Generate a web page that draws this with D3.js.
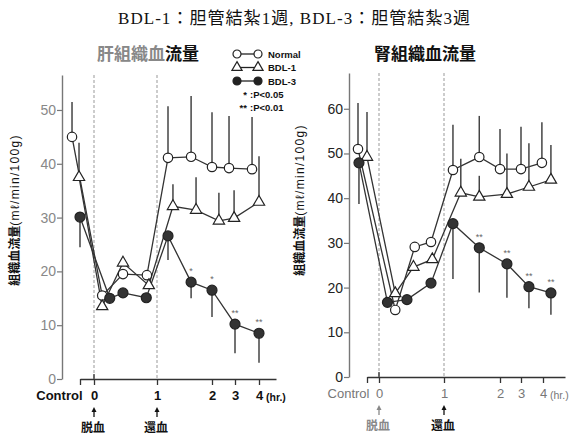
<!DOCTYPE html>
<html>
<head>
<meta charset="utf-8">
<script src="https://cdn.jsdelivr.net/npm/d3@7"></script>
<style>
  body { margin: 0; background: #fff; }
  svg { display: block; }
</style>
</head>
<body>
<div id="chart"></div>
<script>
// time points (hr), x offsets differ a little per series as in the original figure
var liverNormalT = [-1.57, 0.13, 0.46, 0.84, 1.2, 1.62, 2.0, 2.74, 3.71];
var liverNormal = [45.0, 15.5, 19.5, 19.3, 41.1, 41.3, 39.4, 39.2, 39.0];
var liverNormalSD = [6.5, 0, 0, 0, 9.6, 11.3, 10.2, 9.7, 9.7];

var liverBdl1T = [-1.07, 0.13, 0.46, 0.87, 1.29, 1.71, 2.3, 2.96, 4.0];
var liverBdl1 = [37.5, 13.5, 21.6, 17.4, 32.1, 31.4, 29.4, 29.9, 32.9];
var liverBdl1SD = [6.4, 0, 0, 0, 4.1, 6.1, 5.2, 5.2, 8.5];

var liverBdl3T = [-1.0, 0.25, 0.46, 0.83, 1.2, 1.62, 2.0, 3.0, 4.0];
var liverBdl3 = [30.1, 15.0, 16.0, 15.1, 26.6, 18.0, 16.5, 10.2, 8.5];
var liverBdl3SD = [5.6, 0, 0, 0, 4.5, 3.0, 5.0, 5.4, 5.5];
var liverStars = ['', '', '', '', '', '*', '*', '**', '**'];

var kidneyNormalT = [-1.75, 0.25, 0.55, 0.8, 1.16, 1.63, 2.0, 3.0, 3.95];
var kidneyNormal = [51.0, 15.0, 29.1, 30.2, 46.3, 49.2, 46.5, 46.5, 47.9];
var kidneyNormalSD = [10.3, 0, 0, 0, 10.1, 9.2, 9.0, 9.5, 9.1];

var kidneyBdl1T = [-1.0, 0.25, 0.53, 0.82, 1.3, 1.63, 2.33, 3.36, 4.36];
var kidneyBdl1 = [49.2, 18.7, 24.6, 26.3, 41.2, 40.3, 40.9, 42.5, 44.1];
var kidneyBdl1SD = [10.1, 0, 0, 0, 7.6, 4.7, 9.1, 9.8, 7.8];

var kidneyBdl3T = [-1.67, 0.13, 0.43, 0.8, 1.16, 1.63, 2.33, 3.36, 4.36];
var kidneyBdl3 = [47.9, 16.7, 17.3, 21.0, 34.3, 28.9, 25.3, 20.2, 18.8];
var kidneyBdl3SD = [9.2, 0, 0, 0, 12.4, 10.0, 7.6, 4.8, 4.9];
var kidneyStars = ['', '', '', '', '', '**', '**', '**', '**'];

var xTicks = [-1, 0, 1, 2, 3, 4];
var liverYTicks = [0, 10, 20, 30, 40, 50];
var kidneyYTicks = [0, 10, 20, 30, 40, 50, 60];

var W = 586, H = 435;
var jp = '"Noto Sans CJK JP", sans-serif';
var sans = '"Liberation Sans", Arial, sans-serif';

var svg = d3.select('#chart').append('svg')
    .attr('width', W)
    .attr('height', H);

// top caption
svg.append('text')
    .attr('x', 294).attr('y', 24)
    .attr('text-anchor', 'middle')
    .attr('font-family', '"Liberation Serif", ' + jp)
    .attr('font-size', 17)
    .attr('fill', '#111')
    .attr('textLength', 352)
    .attr('lengthAdjust', 'spacing')
    .text('BDL-1：胆管結紮1週, BDL-3：胆管結紮3週');

function drawPanel(p) {
    var g = svg.append('g');
    var x = d3.scaleLinear().domain(p.xDomain).range(p.xRange);
    var y = d3.scaleLinear().domain(p.yDomain).range(p.yRange);
    var y0 = y(0);

    // dashed markers at 0 (ischemia) and 1 (reperfusion)
    g.selectAll('.dash').data([0, 1]).enter().append('line')
        .attr('x1', function(d) { return x(d); })
        .attr('x2', function(d) { return x(d); })
        .attr('y1', p.yRange[1])
        .attr('y2', y0)
        .attr('stroke', '#999')
        .attr('stroke-width', 1)
        .attr('stroke-dasharray', '3,2');

    // y axis
    var ya = g.append('g')
        .attr('transform', 'translate(' + p.yAxisX + ',0)')
        .call(d3.axisLeft(y).tickValues(p.yTicks).tickSize(5).tickSizeOuter(0).tickPadding(1));
    ya.select('.domain').attr('stroke', '#777').attr('stroke-width', 1.4);
    ya.selectAll('.tick line').attr('stroke', '#777').attr('stroke-width', 1.2);
    ya.selectAll('.tick text')
        .attr('font-family', sans).attr('font-size', 14)
        .attr('fill', p.yTickColor);

    // x axis
    var xa = g.append('g')
        .attr('transform', 'translate(0,' + y0 + ')')
        .call(d3.axisBottom(x).tickValues(xTicks).tickSize(6).tickSizeOuter(0).tickPadding(6)
            .tickFormat(function(d) { return d < 0 ? 'Control' : d; }));
    xa.select('.domain').attr('stroke', '#333').attr('stroke-width', 1.6);
    xa.selectAll('.tick line').attr('stroke', '#333').attr('stroke-width', 1.3);
    xa.selectAll('.tick text')
        .attr('font-family', sans).attr('font-size', 13)
        .attr('font-weight', p.xBold ? 'bold' : 'normal')
        .attr('fill', p.xTickColor)
        .attr('text-anchor', function(d) { return d < 0 ? 'end' : 'middle'; })
        .attr('dx', function(d) { return d < 0 ? 2 : 0; });
    xa.append('line')
        .attr('x1', x(0)).attr('x2', x(0))
        .attr('y1', -5).attr('y2', 0)
        .attr('stroke', '#333').attr('stroke-width', 1.3);
    xa.append('text')
        .attr('x', x(4) + 7).attr('y', 22)
        .attr('text-anchor', 'start')
        .attr('font-family', sans).attr('font-size', 10.5)
        .attr('font-weight', p.xBold ? 'bold' : 'normal')
        .attr('fill', p.xTickColor)
        .text('(hr.)');

    // arrows and labels under the axis
    var ev = [{ t: 0, label: '脱血', c: p.evColor[0] }, { t: 1, label: '還血', c: p.evColor[1] }];
    var evG = g.selectAll('.ev').data(ev).enter().append('g')
        .attr('transform', function(d) { return 'translate(' + x(d.t) + ',0)'; });
    evG.append('line')
        .attr('y1', y0 + 31).attr('y2', y0 + 38)
        .attr('stroke', function(d) { return d.c; }).attr('stroke-width', 1.3);
    evG.append('path')
        .attr('d', 'M0,' + (y0 + 28) + 'L-2.5,' + (y0 + 33) + 'L2.5,' + (y0 + 33) + 'Z')
        .attr('fill', function(d) { return d.c; });
    evG.append('text')
        .attr('x', -1).attr('y', y0 + 53)
        .attr('text-anchor', 'middle')
        .attr('font-family', jp).attr('font-size', 12).attr('font-weight', 'bold')
        .attr('fill', function(d) { return d.c; })
        .text(function(d) { return d.label; });

    // y label
    var yl = g.append('text')
        .attr('transform', 'translate(' + p.yLabelX + ',' + p.yLabelY + ') rotate(-90)')
        .attr('text-anchor', 'middle')
        .attr('font-size', 12)
        .attr('fill', '#111');
    yl.append('tspan').attr('font-family', jp).attr('font-weight', 'bold').text('組織血流量');
    yl.append('tspan').attr('font-family', sans).attr('letter-spacing', 1.3).text('(mℓ/min/100g)');

    // panel title
    var tt = g.append('text')
        .attr('x', p.titleX).attr('y', 60)
        .attr('text-anchor', 'middle')
        .attr('font-family', jp).attr('font-size', 17).attr('font-weight', 'bold');
    tt.append('tspan').attr('fill', p.titleColor).text(p.title.slice(0, 4));
    tt.append('tspan').attr('fill', '#111').text(p.title.slice(4));

    var line = d3.line()
        .x(function(d) { return x(d.t); })
        .y(function(d) { return y(d.v); });

    p.series.forEach(function(s) {
        var pts = s.t.map(function(t, i) { return { t: t, v: s.v[i], sd: s.sd[i], star: s.stars ? s.stars[i] : '' }; });
        g.append('path').datum(pts)
            .attr('d', line)
            .attr('fill', 'none')
            .attr('stroke', '#333')
            .attr('stroke-width', 1.3);
        // SD bars: up for Normal / BDL-1, down for BDL-3
        g.selectAll(null).data(pts.filter(function(d) { return d.sd > 0; })).enter().append('line')
            .attr('x1', function(d) { return x(d.t); })
            .attr('x2', function(d) { return x(d.t); })
            .attr('y1', function(d) { return y(d.v); })
            .attr('y2', function(d) { return y(d.v + s.dir * d.sd); })
            .attr('stroke', '#444')
            .attr('stroke-width', 1.5);
        s.pts = pts;
    });

    p.series.forEach(function(s) {
        var m = g.selectAll(null).data(s.pts).enter();
        if (s.shape === 'tri') {
            m.append('path')
                .attr('d', d3.symbol(d3.symbolTriangle, 55))
                .attr('transform', function(d) { return 'translate(' + x(d.t) + ',' + y(d.v) + ')'; })
                .attr('fill', '#fff').attr('stroke', '#222').attr('stroke-width', 1.2);
        } else {
            m.append('circle')
                .attr('cx', function(d) { return x(d.t); })
                .attr('cy', function(d) { return y(d.v); })
                .attr('r', s.shape === 'dot' ? 5 : 4.7)
                .attr('fill', s.shape === 'dot' ? '#333' : '#fff')
                .attr('stroke', '#222').attr('stroke-width', 1.2);
        }
        g.selectAll(null).data(s.pts.filter(function(d) { return d.star; })).enter().append('text')
            .attr('x', function(d) { return x(d.t); })
            .attr('y', function(d) { return y(d.v) - 8; })
            .attr('text-anchor', 'middle')
            .attr('font-family', sans).attr('font-size', 9)
            .attr('fill', '#666')
            .text(function(d) { return d.star; });
    });
}

drawPanel({
    title: '肝組織血流量', titleX: 148, titleColor: '#888',
    xDomain: [-1, 0, 1, 2, 3, 4, 4.7], xRange: [80, 94, 157, 212, 235, 259, 276],
    yDomain: [0, 56.5], yRange: [379, 75], yTicks: liverYTicks, yAxisX: 62,
    yTickColor: '#888', xTickColor: '#111', xBold: true, evColor: ['#111', '#111'],
    yLabelX: 19, yLabelY: 210,
    series: [
        { t: liverNormalT, v: liverNormal, sd: liverNormalSD, dir: 1, shape: 'circle' },
        { t: liverBdl1T, v: liverBdl1, sd: liverBdl1SD, dir: 1, shape: 'tri' },
        { t: liverBdl3T, v: liverBdl3, sd: liverBdl3SD, dir: -1, shape: 'dot', stars: liverStars }
    ]
});

drawPanel({
    title: '腎組織血流量', titleX: 425, titleColor: '#111',
    xDomain: [-1, 0, 1, 2, 3, 4, 5], xRange: [367, 379, 444, 500, 521, 543, 565],
    yDomain: [0, 68], yRange: [377, 73], yTicks: kidneyYTicks, yAxisX: 349,
    yTickColor: '#222', xTickColor: '#777', xBold: false, evColor: ['#888', '#111'],
    yLabelX: 304, yLabelY: 200,
    series: [
        { t: kidneyNormalT, v: kidneyNormal, sd: kidneyNormalSD, dir: 1, shape: 'circle' },
        { t: kidneyBdl1T, v: kidneyBdl1, sd: kidneyBdl1SD, dir: 1, shape: 'tri' },
        { t: kidneyBdl3T, v: kidneyBdl3, sd: kidneyBdl3SD, dir: -1, shape: 'dot', stars: kidneyStars }
    ]
});

// legend
var legendRows = [
    { label: 'Normal', shape: 'circle' },
    { label: 'BDL-1', shape: 'tri' },
    { label: 'BDL-3', shape: 'dot' }
];
var lg = svg.append('g').attr('transform', 'translate(237,54)');
legendRows.forEach(function(r, i) {
    var row = lg.append('g').attr('transform', 'translate(0,' + (i * 13.5) + ')');
    row.append('line').attr('x1', 0).attr('x2', 21)
        .attr('stroke', '#222').attr('stroke-width', 1.3);
    [0, 21].forEach(function(cx) {
        if (r.shape === 'tri') {
            row.append('path').attr('d', d3.symbol(d3.symbolTriangle, 45))
                .attr('transform', 'translate(' + cx + ',0)')
                .attr('fill', '#fff').attr('stroke', '#222').attr('stroke-width', 1.2);
        } else {
            row.append('circle').attr('cx', cx).attr('r', 4)
                .attr('fill', r.shape === 'dot' ? '#222' : '#fff')
                .attr('stroke', '#222').attr('stroke-width', 1.2);
        }
    });
    row.append('text').attr('x', 31).attr('y', 3.5)
        .attr('font-family', sans).attr('font-size', 9.5).attr('font-weight', 'bold')
        .attr('fill', '#111')
        .text(r.label);
});
var sigRows = [['*', ':P<0.05'], ['**', ':P<0.01']];
sigRows.forEach(function(r, i) {
    var t = lg.append('text').attr('x', 11).attr('y', 44 + i * 13)
        .attr('font-family', sans).attr('font-size', 9.5).attr('font-weight', 'bold')
        .attr('fill', '#111');
    t.append('tspan').attr('text-anchor', 'end').attr('x', 10).text(r[0]);
    t.append('tspan').attr('x', 13).text(r[1]);
});
</script>
</body>
</html>
